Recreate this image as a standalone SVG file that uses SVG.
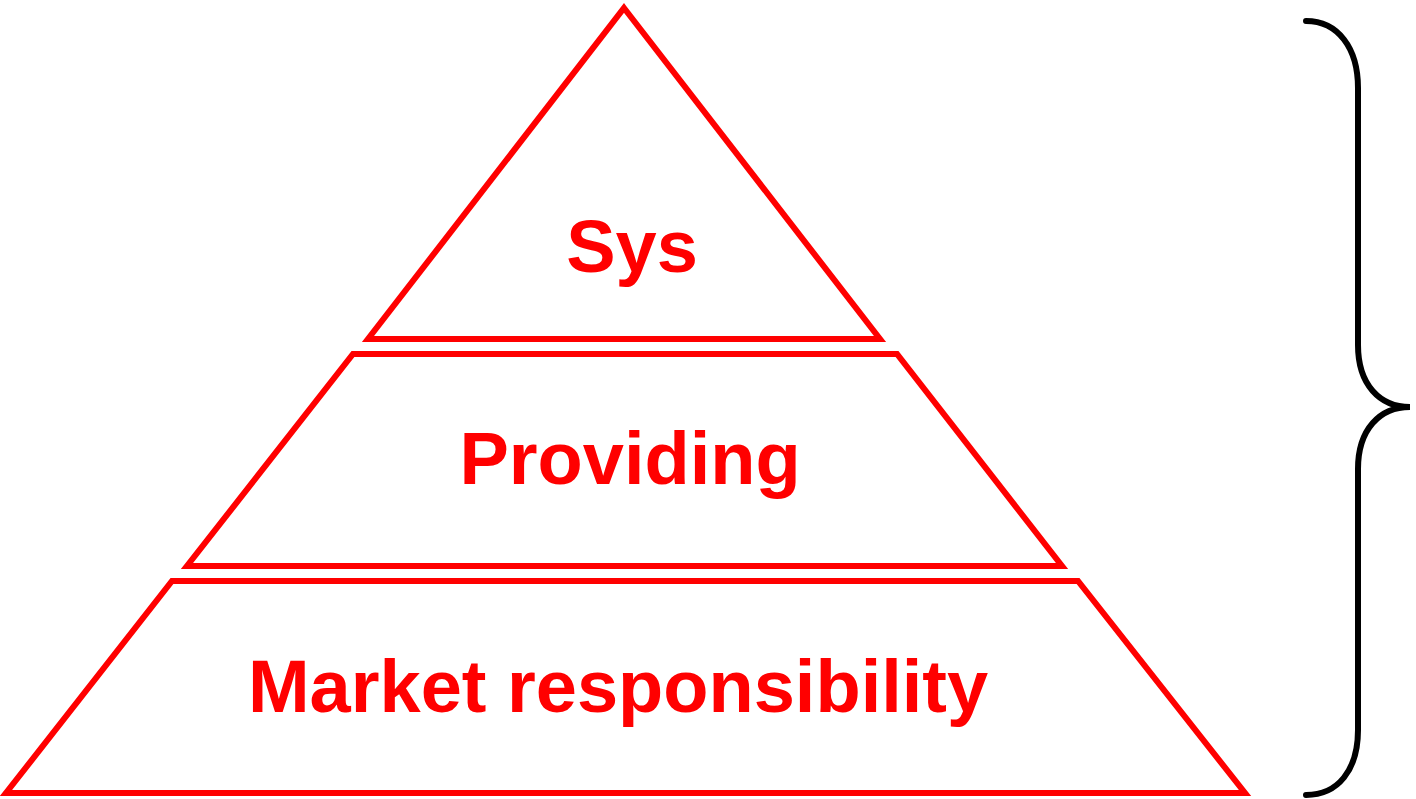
<svg xmlns="http://www.w3.org/2000/svg" width="1416" height="799" viewBox="0 0 1416 799">
<style>
.lvl{fill:none;stroke:#ff0000;stroke-width:6;stroke-linejoin:miter}
.lbl{font-family:"Liberation Sans",Arial,sans-serif;font-weight:bold;font-size:74px;fill:#ff0000;text-anchor:middle}
.brace{fill:none;stroke:#000;stroke-width:6;stroke-linecap:round}
</style>
<rect width="1416" height="799" fill="#fff"/>
<g id="level-top">
<polygon class="lvl" points="624,8 880,339 368,339"/>
<text class="lbl" x="632" y="272">Sys</text>
</g>
<g id="level-middle">
<polygon class="lvl" points="353,354 897,354 1062,566 187,566"/>
<text class="lbl" x="630" y="484">Providing</text>
</g>
<g id="level-bottom">
<polygon class="lvl" points="172,581 1078,581 1245,793 6,793"/>
<text class="lbl" x="618" y="712">Market responsibility</text>
</g>
<g id="connectors">
<path class="brace" d="M1306,21 C1338,21 1358,48 1358,88 L1358,345 C1358,385 1380,407 1410,407 C1380,407 1358,429 1358,469 L1358,730 C1358,770 1338,795 1306,795"/>
</g>
</svg>
